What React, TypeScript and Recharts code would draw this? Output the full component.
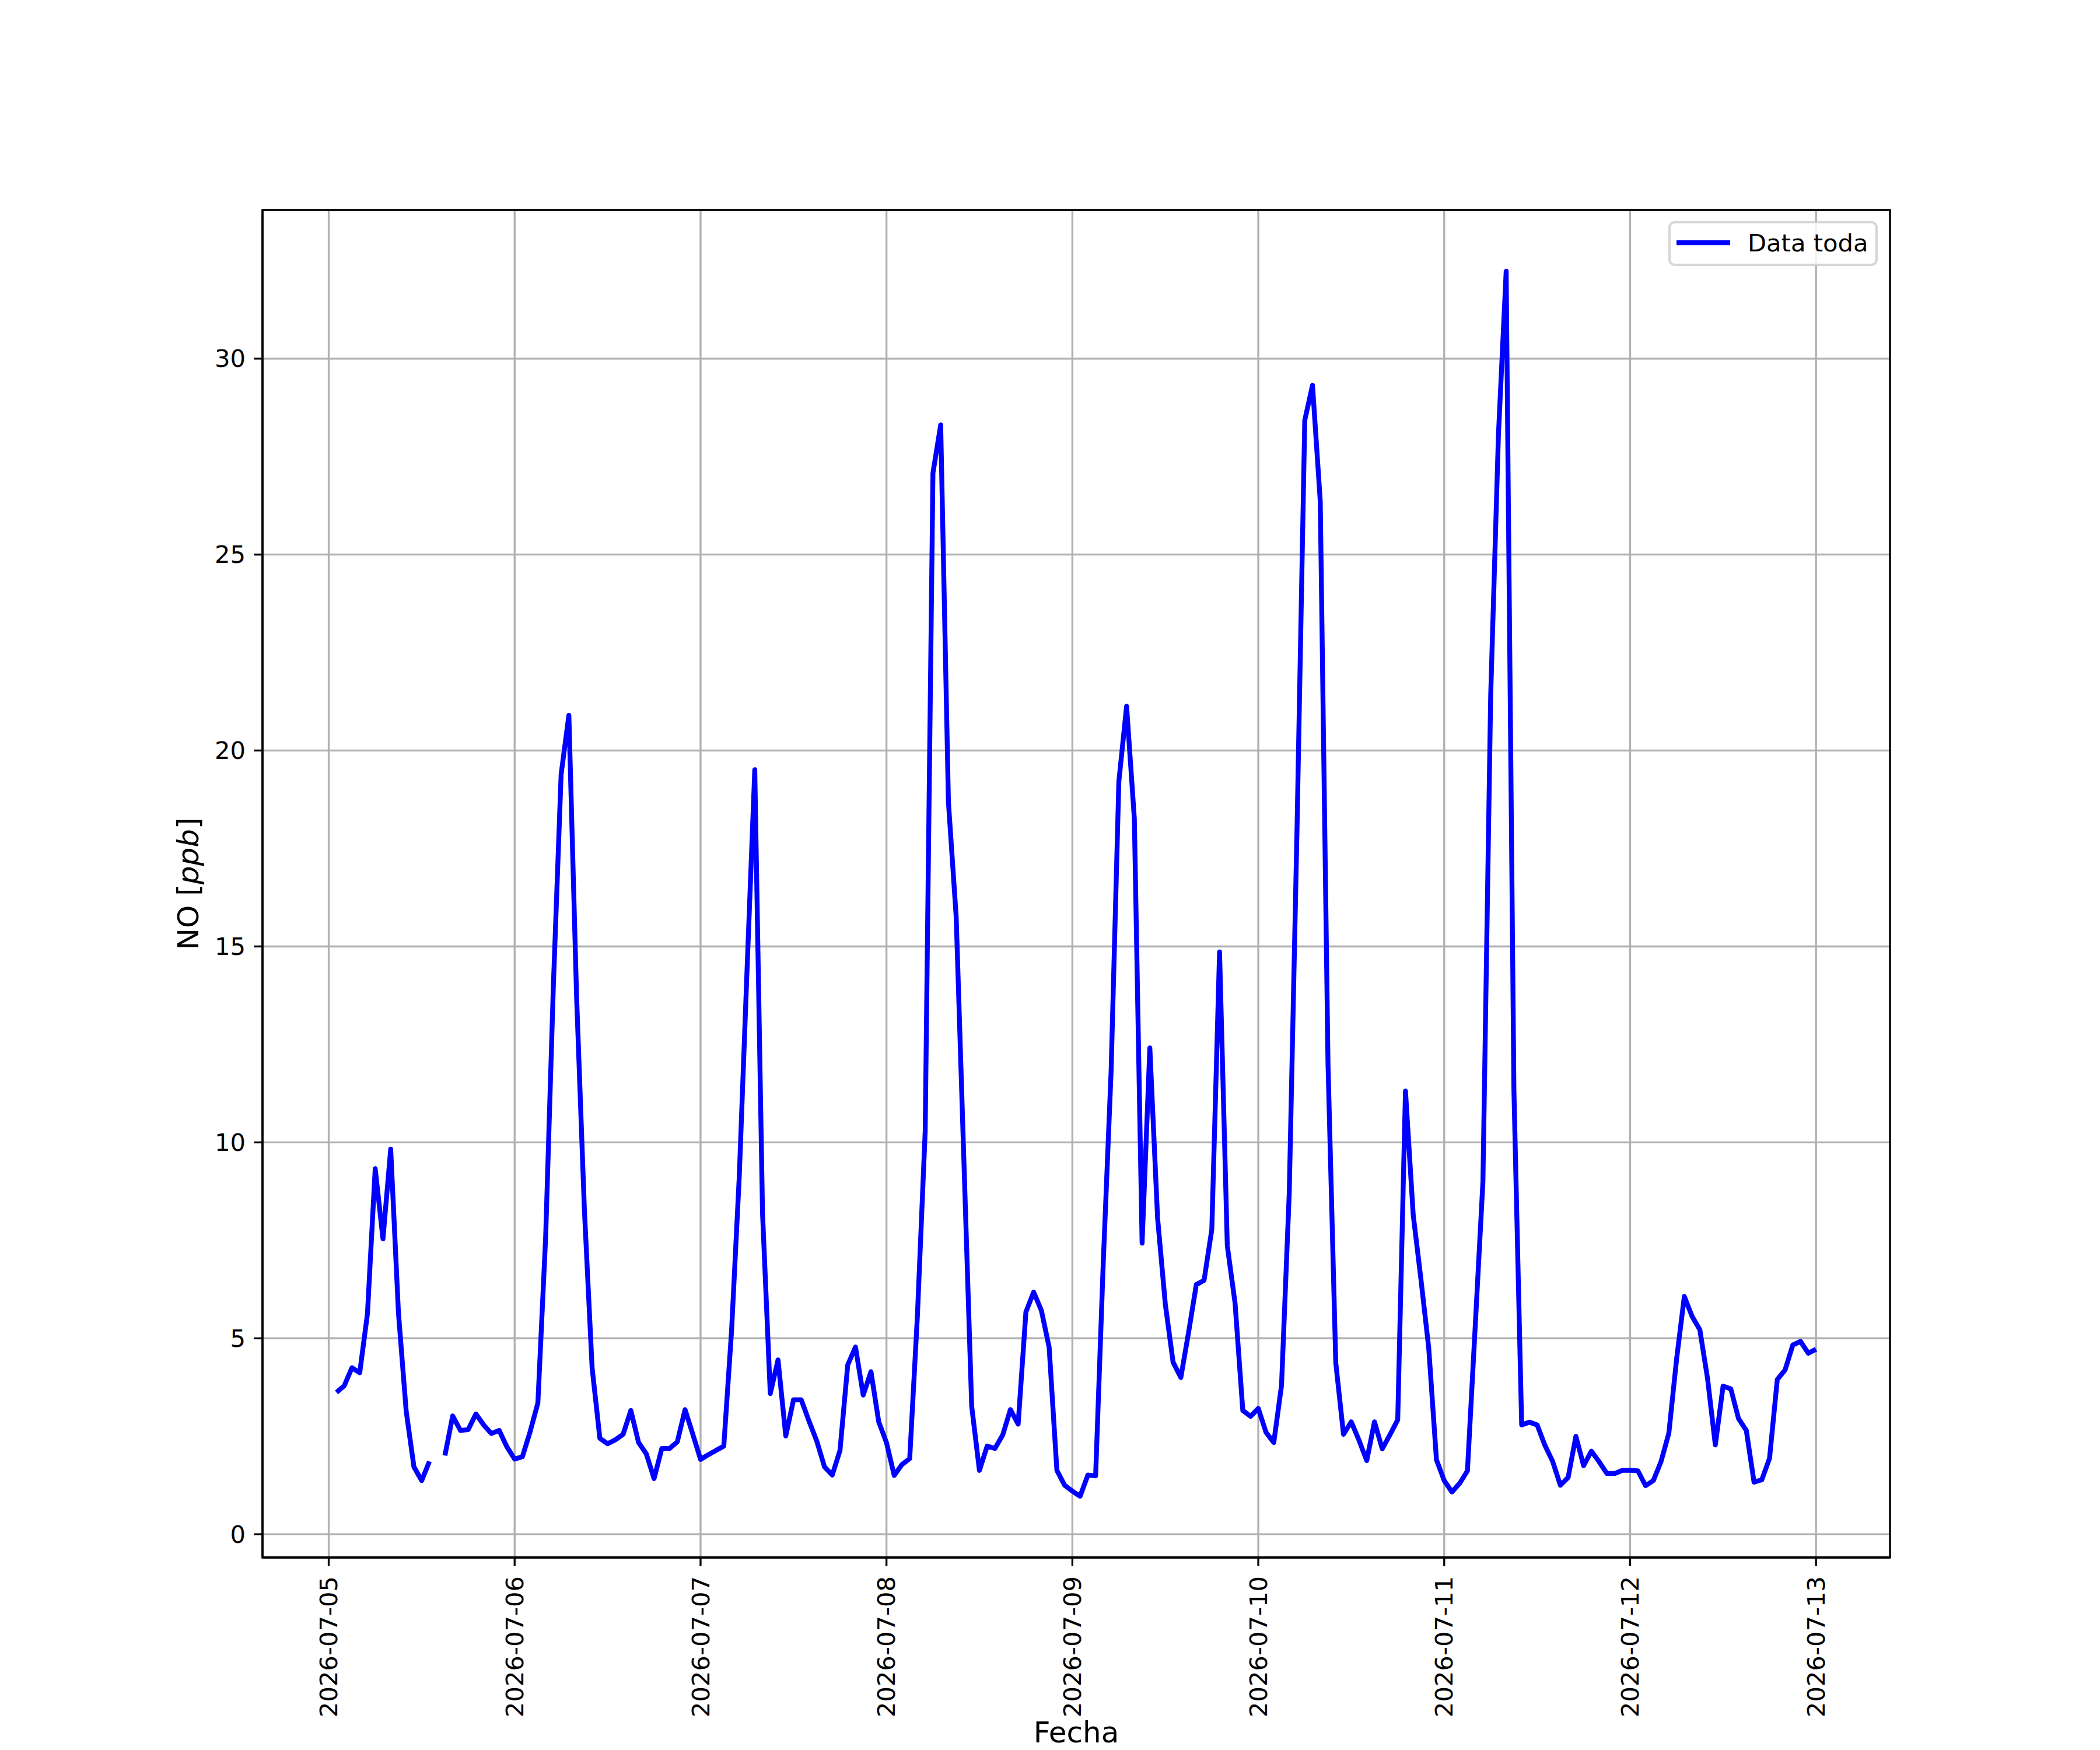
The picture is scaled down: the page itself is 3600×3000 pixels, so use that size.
import * as React from "react";
import {
  CartesianGrid,
  Legend,
  Line,
  LineChart,
  ReferenceArea,
  XAxis,
  YAxis,
} from "recharts";

// NO hourly values, one array per day (01:00 .. 24:00)
const no0705 = [3.62, 3.79, 4.25, 4.12, 5.63, 9.33, 7.54, 9.83, 5.65, 3.14, 1.72, 1.37, 1.86, null, 2.01, 3.02, 2.65, 2.67, 3.07, 2.79, 2.57, 2.65, 2.23, 1.92];
const no0706 = [1.98, 2.62, 3.35, 7.57, 14.0, 19.39, 20.9, 13.7, 8.3, 4.25, 2.45, 2.31, 2.41, 2.55, 3.16, 2.34, 2.05, 1.42, 2.19, 2.19, 2.36, 3.18, 2.55, 1.91];
const no0707 = [2.03, 2.14, 2.25, 5.18, 9.14, 14.4, 19.51, 8.2, 3.59, 4.45, 2.51, 3.43, 3.43, 2.89, 2.38, 1.72, 1.51, 2.14, 4.32, 4.78, 3.55, 4.15, 2.87, 2.34];
const no0708 = [1.5, 1.78, 1.93, 5.6, 10.29, 27.08, 28.31, 18.68, 15.76, 9.5, 3.27, 1.63, 2.25, 2.19, 2.53, 3.18, 2.81, 5.67, 6.18, 5.71, 4.77, 1.63, 1.25, 1.1];
const no0709 = [0.97, 1.51, 1.49, 7.0, 11.82, 19.21, 21.13, 18.26, 7.43, 12.41, 8.07, 5.87, 4.39, 4.0, 5.15, 6.37, 6.48, 7.78, 14.86, 7.36, 5.9, 3.16, 3.01, 3.21];
const no0710 = [2.6, 2.34, 3.8, 8.73, 18.0, 28.43, 29.32, 26.36, 12.0, 4.38, 2.55, 2.87, 2.4, 1.88, 2.87, 2.18, 2.54, 2.92, 11.31, 8.15, 6.5, 4.76, 1.9, 1.37];
const no0711 = [1.08, 1.3, 1.62, 5.29, 9.0, 21.4, 28.05, 32.23, 11.33, 2.79, 2.86, 2.79, 2.27, 1.86, 1.25, 1.45, 2.5, 1.75, 2.12, 1.85, 1.55, 1.55, 1.63, 1.63];
const no0712 = [1.62, 1.24, 1.37, 1.86, 2.58, 4.47, 6.07, 5.56, 5.22, 3.97, 2.28, 3.78, 3.71, 2.95, 2.65, 1.33, 1.39, 1.94, 3.95, 4.19, 4.83, 4.92, 4.62, 4.72];

const days = [no0705, no0706, no0707, no0708, no0709, no0710, no0711, no0712];

const dateLabels = [
  "2026-07-05",
  "2026-07-06",
  "2026-07-07",
  "2026-07-08",
  "2026-07-09",
  "2026-07-10",
  "2026-07-11",
  "2026-07-12",
  "2026-07-13",
];

const yTicks = [0, 5, 10, 15, 20, 25, 30];

// hours since 2026-07-05 00:00
const data = days.flatMap((vals, d) =>
  vals.map((v, i) => ({ h: d * 24 + i + 1, no: v }))
);

const pad = (lo: number, hi: number): [number, number] => {
  const m = (hi - lo) * 0.05;
  return [lo - m, hi + m];
};
const xs = data.map((d) => d.h);
const ys = data.map((d) => d.no).filter((v): v is number => v != null);
const xDomain = pad(Math.min(...xs), Math.max(...xs));
const yDomain = pad(Math.min(...ys), Math.max(...ys));
const xTicks = dateLabels.map((_, i) => i * 24);

const FONT = "DejaVu Sans";
const LW = 3.33;

function XTick({ x, payload }: any) {
  const y = 2702;
  return (
    <text
      x={x}
      y={y}
      transform={`rotate(-90 ${x} ${y})`}
      textAnchor="end"
      dy="0.35em"
      fontFamily={FONT}
      fontSize={41.67}
      fill="#000"
    >
      {dateLabels[Math.round(payload.value / 24)]}
    </text>
  );
}

function YTick({ y, payload }: any) {
  return (
    <text
      x={421}
      y={y}
      textAnchor="end"
      dy="0.35em"
      fontFamily={FONT}
      fontSize={41.67}
      fill="#000"
    >
      {payload.value}
    </text>
  );
}

const xTitle = () => (
  <text x={1845} y={2987} textAnchor="middle" fontFamily={FONT} fontSize={50} fill="#000">
    Fecha
  </text>
);

const yTitle = () => (
  <text
    x={322}
    y={1515}
    transform="rotate(-90 322 1515)"
    textAnchor="middle"
    dy="0.35em"
    fontFamily={FONT}
    fontSize={50}
    fill="#000"
  >
    {"NO ["}
    <tspan fontStyle="italic">ppb</tspan>
    {"]"}
  </text>
);

function LegendBox() {
  return (
    <svg width={360} height={80} style={{ display: "block", overflow: "visible" }}>
      <rect
        x={2}
        y={2}
        width={355}
        height={73}
        rx={9}
        fill="rgba(255,255,255,0.8)"
        stroke="rgba(204,204,204,0.8)"
        strokeWidth={4.17}
      />
      <line x1={14} y1={37} x2={106} y2={37} stroke="#0000ff" strokeWidth={8.33} />
      <text x={136} y={37} dy="0.35em" fontFamily={FONT} fontSize={41.67} fill="#000">
        Data toda
      </text>
    </svg>
  );
}

export default function App() {
  return (
    <div style={{ position: "absolute", left: 0, top: 0, width: 3600, height: 3000, background: "#fff" }}>
      <LineChart
        width={3600}
        height={3000}
        data={data}
        margin={{ top: 360, right: 360, bottom: 30, left: 300 }}
      >
        <CartesianGrid stroke="#b0b0b0" strokeWidth={LW} />
        <XAxis
          dataKey="h"
          type="number"
          domain={xDomain}
          ticks={xTicks}
          interval={0}
          allowDataOverflow
          height={300}
          tickSize={14.6}
          axisLine={{ stroke: "#000", strokeWidth: LW }}
          tickLine={{ stroke: "#000", strokeWidth: LW }}
          tick={<XTick />}
          label={xTitle}
        />
        <YAxis
          type="number"
          domain={yDomain}
          ticks={yTicks}
          interval={0}
          allowDataOverflow
          width={150}
          tickSize={14.6}
          axisLine={{ stroke: "#000", strokeWidth: LW }}
          tickLine={{ stroke: "#000", strokeWidth: LW }}
          tick={<YTick />}
          label={yTitle}
        />
        <Line
          dataKey="no"
          stroke="#0000ff"
          strokeWidth={8.33}
          strokeLinejoin="round"
          dot={false}
          activeDot={false}
          connectNulls={false}
          isAnimationActive={false}
        />
        <ReferenceArea
          x1={xDomain[0]}
          x2={xDomain[1]}
          y1={yDomain[0]}
          y2={yDomain[1]}
          fill="none"
          fillOpacity={0}
          stroke="#000"
          strokeWidth={LW}
          strokeOpacity={1}
          ifOverflow="visible"
        />
        <Legend
          layout="vertical"
          align="center"
          verticalAlign="middle"
          wrapperStyle={{ position: "absolute", left: 2860, top: 379, width: 360, height: 80 }}
          content={() => <LegendBox />}
        />
      </LineChart>
    </div>
  );
}
